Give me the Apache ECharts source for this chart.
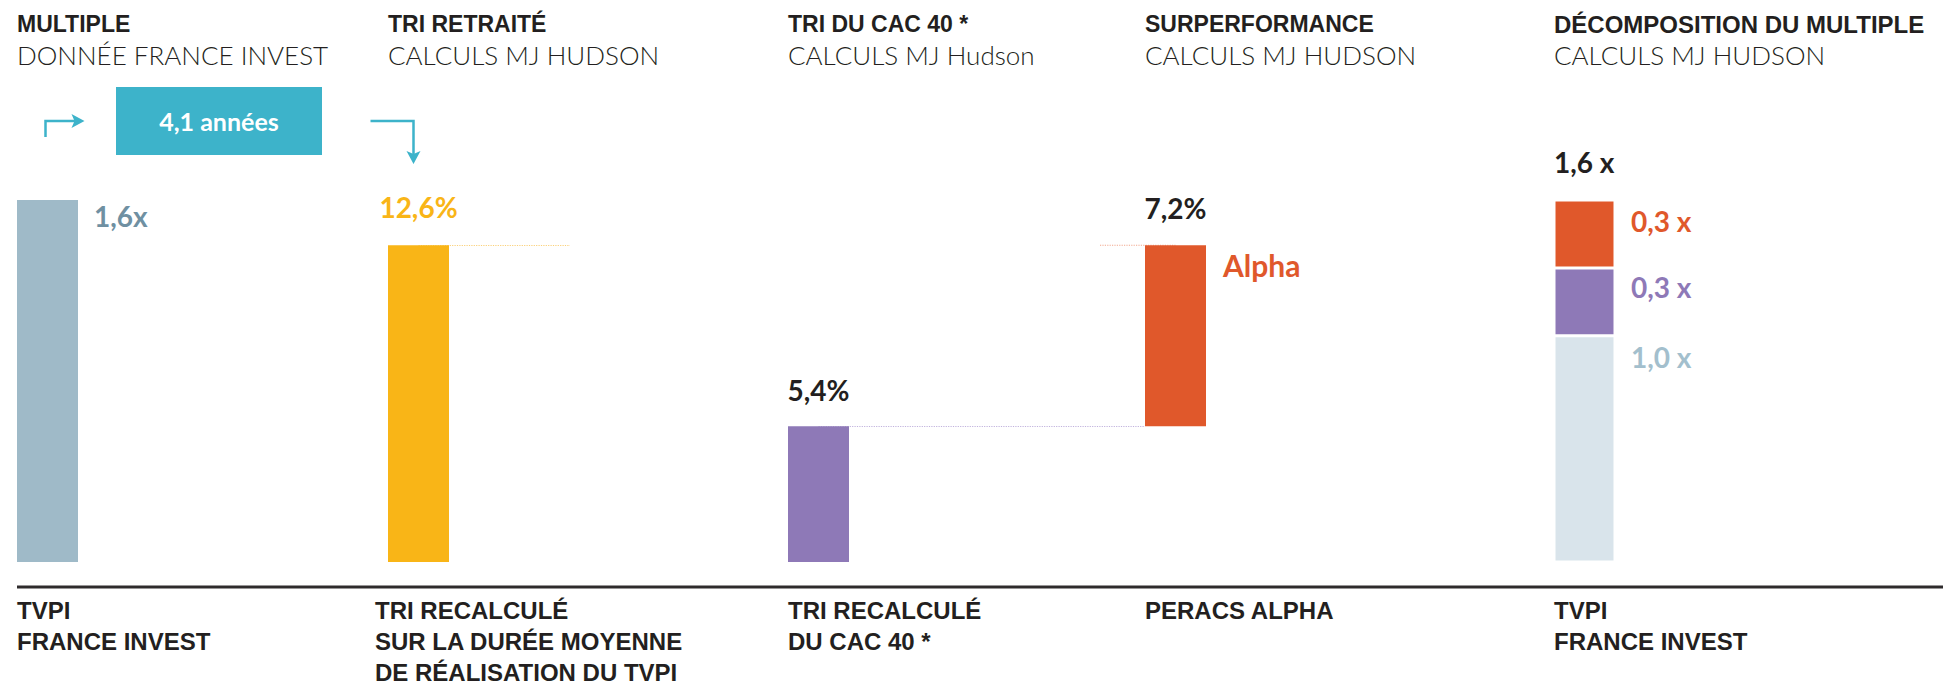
<!DOCTYPE html>
<html>
<head>
<meta charset="utf-8">
<title>Multiple, TRI et PERACS Alpha</title>
<script src="https://cdn.jsdelivr.net/npm/echarts@6/dist/echarts.min.js"></script>
<style>
  html, body { margin: 0; padding: 0; background: #fff; }
  #chart { width: 1943px; height: 688px; }
</style>
</head>
<body>
<div id="chart"></div>
<script>
// libellés sous l'axe
const categories = [
  'TVPI\nFRANCE INVEST',
  'TRI RECALCULÉ\nSUR LA DURÉE MOYENNE\nDE RÉALISATION DU TVPI',
  'TRI RECALCULÉ\nDU CAC 40 *',
  'PERACS ALPHA',
  'TVPI\nFRANCE INVEST'
]
const headTitles = ['MULTIPLE', 'TRI RETRAITÉ', 'TRI DU CAC 40 *', 'SURPERFORMANCE', 'DÉCOMPOSITION DU MULTIPLE']
const headSources = ['DONNÉE FRANCE INVEST', 'CALCULS MJ HUDSON', 'CALCULS MJ Hudson', 'CALCULS MJ HUDSON', 'CALCULS MJ HUDSON']

// valeurs : multiples (x) et TRI (%)
const tvpi = [1.6]
const triRetraite = [12.6]
const triCac = [5.4]
const alpha = [7.2]
const decompBase = [1.0]
const decompCac = [0.3]
const decompAlpha = [0.3]
const dureeMoyenne = [4.1]

const BAR_W = 61
const colLeft = [17, 388, 788, 1145, 1554]
const col = {
  tvpi: '#9fbac8', tvpiTxt: '#6f90a2', yellow: '#f9b517', purple: '#8e79b7',
  orange: '#e0582b', light: '#d9e4eb', lightTxt: '#a3bfcd', dark: '#231f20', teal: '#3db3ca'
}
const fr = v => v.toFixed(1).replace('.', ',')
const decompTotal = decompBase[0] + decompCac[0] + decompAlpha[0]

function numLabel (extra) {
  return Object.assign({ show: true, fontFamily: 'Lato', fontWeight: 'bold', fontSize: 28, lineHeight: 30 }, extra)
}
function sideLabel (color, fmt, dy) {
  return numLabel({ position: [BAR_W + 16, dy], align: 'left', verticalAlign: 'middle', color: color, formatter: fmt })
}
const hiddenPoint = { symbol: 'rect', symbolSize: 1, silent: true, itemStyle: { color: 'rgba(0,0,0,0)' } }
const dotted = color => ({ z: 1, silent: true, symbol: ['none', 'none'], label: { show: false }, lineStyle: { type: 'dotted', width: 1.2, color: color }, data: [] })

const chart = echarts.init(document.getElementById('chart'), null, { renderer: 'svg' })

// une grille par colonne ; multiples sur 0..1,6 x, TRI sur 0..14,4 %
const bar = (i, extra) => Object.assign({ type: 'bar', xAxisIndex: i, yAxisIndex: i, barWidth: BAR_W, barGap: '-100%', clip: false }, extra)

chart.setOption({
  animation: false,
  grid: colLeft.map(l => ({ left: l, width: BAR_W, top: 200, bottom: 126 })),
  xAxis: categories.map((c, i) => ({ gridIndex: i, type: 'category', data: [c], show: false })),
  yAxis: categories.map((c, i) => ({ gridIndex: i, type: 'value', min: 0, max: (i === 0 || i === 4) ? 1.6 : 14.4, show: false })),
  series: [
    bar(0, {
      name: 'TVPI', data: tvpi,
      itemStyle: { color: col.tvpi },
      label: sideLabel(col.tvpiTxt, p => fr(p.value) + 'x', 16)
    }),
    bar(1, {
      id: 'tri', name: 'TRI retraité', data: triRetraite,
      itemStyle: { color: col.yellow },
      label: numLabel({ position: 'top', distance: 23, color: col.yellow, formatter: p => fr(p.value) + '%' }),
      markLine: dotted('#fbd17a')
    }),
    bar(2, {
      id: 'cac', name: 'TRI CAC 40', data: triCac,
      itemStyle: { color: col.purple },
      label: numLabel({ position: 'top', distance: 21, color: col.dark, formatter: p => fr(p.value) + '%' }),
      markLine: dotted('#c1b3dd')
    }),
    bar(3, {
      name: 'base', stack: 'wf', data: triCac, silent: true,
      itemStyle: { color: 'rgba(0,0,0,0)' }
    }),
    bar(3, {
      id: 'alpha', name: 'PERACS Alpha', stack: 'wf', data: alpha,
      itemStyle: { color: col.orange },
      label: numLabel({ position: 'top', distance: 22, color: col.dark, formatter: p => fr(p.value) + '%' }),
      markLine: dotted('#f2a98f'),
      markPoint: Object.assign({}, hiddenPoint, {
        data: [{
          coord: [0, triCac[0] + alpha[0]],
          label: numLabel({ position: 'inside', offset: [BAR_W / 2 + 17, 20], align: 'left', verticalAlign: 'middle', fontSize: 30, color: col.orange, formatter: 'Alpha' })
        }]
      })
    }),
    bar(4, {
      name: 'Multiple de base', stack: 'dec', data: decompBase,
      itemStyle: { color: col.light, borderColor: '#fff', borderWidth: 1.5 },
      label: sideLabel(col.lightTxt, p => fr(p.value) + ' x', 21)
    }),
    bar(4, {
      name: 'Effet CAC 40', stack: 'dec', data: decompCac,
      itemStyle: { color: col.purple, borderColor: '#fff', borderWidth: 1.5 },
      label: sideLabel(col.purple, p => fr(p.value) + ' x', 19)
    }),
    bar(4, {
      name: 'Effet alpha', stack: 'dec', data: decompAlpha,
      itemStyle: { color: col.orange, borderColor: '#fff', borderWidth: 1.5 },
      label: sideLabel(col.orange, p => fr(p.value) + ' x', 21),
      markPoint: Object.assign({}, hiddenPoint, {
        data: [{
          coord: [0, decompTotal],
          label: numLabel({ position: 'inside', offset: [-BAR_W / 2, -38], align: 'left', verticalAlign: 'middle', color: col.dark, formatter: fr(decompTotal) + ' x' })
        }]
      })
    })
  ]
})

// titres, libellés, séparateur, flèches et pointillés placés à partir des axes
function decorate () {
  const cx = categories.map((c, i) => chart.convertToPixel({ xAxisIndex: i }, 0))
  const left = cx.map(x => x - BAR_W / 2)
  const axisY = chart.convertToPixel({ yAxisIndex: 0 }, 0) + 25
  const yTri = chart.convertToPixel({ yAxisIndex: 1 }, triRetraite[0])
  const yCac = chart.convertToPixel({ yAxisIndex: 2 }, triCac[0])
  const els = []

  const txt = (x, y, text, font, fill, extra) => ({
    type: 'text', x: x, y: y, silent: true,
    style: Object.assign({ text: text, font: font, fill: fill, align: 'left', textAlign: 'left', verticalAlign: 'middle', textVerticalAlign: 'middle' }, extra || {})
  })

  headTitles.forEach((t, i) => {
    const size = i === 4 ? 24 : 23
    els.push(txt(left[i], 24, t, 'bold ' + size + 'px "Liberation Sans"', col.dark))
    els.push(txt(left[i], 55, headSources[i], '300 26px Lato', col.dark))
  })
  categories.forEach((c, i) => {
    const shift = i === 1 ? -13 : 0
    els.push(txt(left[i] + shift, axisY + 8, c, 'bold 24px "Liberation Sans"', col.dark,
      { verticalAlign: 'top', textVerticalAlign: 'top', lineHeight: 31 }))
  })
  els.push({
    type: 'line', silent: true,
    shape: { x1: left[0], y1: axisY, x2: chart.getWidth(), y2: axisY },
    style: { stroke: '#2e2b2c', lineWidth: 3 }
  })

  // durée moyenne de réalisation
  const boxCx = (cx[0] + cx[1]) / 2 - 14
  els.push({ type: 'rect', silent: true, shape: { x: boxCx - 103, y: 87, width: 206, height: 68 }, style: { fill: col.teal } })
  els.push(txt(boxCx, 121, fr(dureeMoyenne[0]) + ' années', 'bold 25px Lato', '#fff', { align: 'center', textAlign: 'center' }))
  const ax = cx[0] - 2
  els.push({ type: 'polyline', silent: true, shape: { points: [[ax, 137], [ax, 121], [ax + 34, 121]] }, style: { stroke: col.teal, lineWidth: 2.5, fill: null } })
  els.push({ type: 'polygon', silent: true, shape: { points: [[ax + 39, 121], [ax + 26, 114], [ax + 29, 121], [ax + 26, 128]] }, style: { fill: col.teal } })
  const bx = cx[1] - 5
  els.push({ type: 'polyline', silent: true, shape: { points: [[bx - 43, 121], [bx, 121], [bx, 158]] }, style: { stroke: col.teal, lineWidth: 2.5, fill: null } })
  els.push({ type: 'polygon', silent: true, shape: { points: [[bx, 164], [bx - 7, 151], [bx, 154], [bx + 7, 151]] }, style: { fill: col.teal } })

  chart.setOption({
    graphic: { elements: els },
    series: [
      { id: 'tri', markLine: { data: [[{ coord: [0, triRetraite[0]] }, { x: left[1] + BAR_W + 121, y: yTri }]] } },
      { id: 'cac', markLine: { data: [[{ coord: [0, triCac[0]] }, { x: left[3], y: yCac }]] } },
      { id: 'alpha', markLine: { data: [[{ x: left[3] - 45, y: yTri }, { coord: [0, triCac[0] + alpha[0]] }]] } }
    ]
  })
}
decorate()
</script>
</body>
</html>
